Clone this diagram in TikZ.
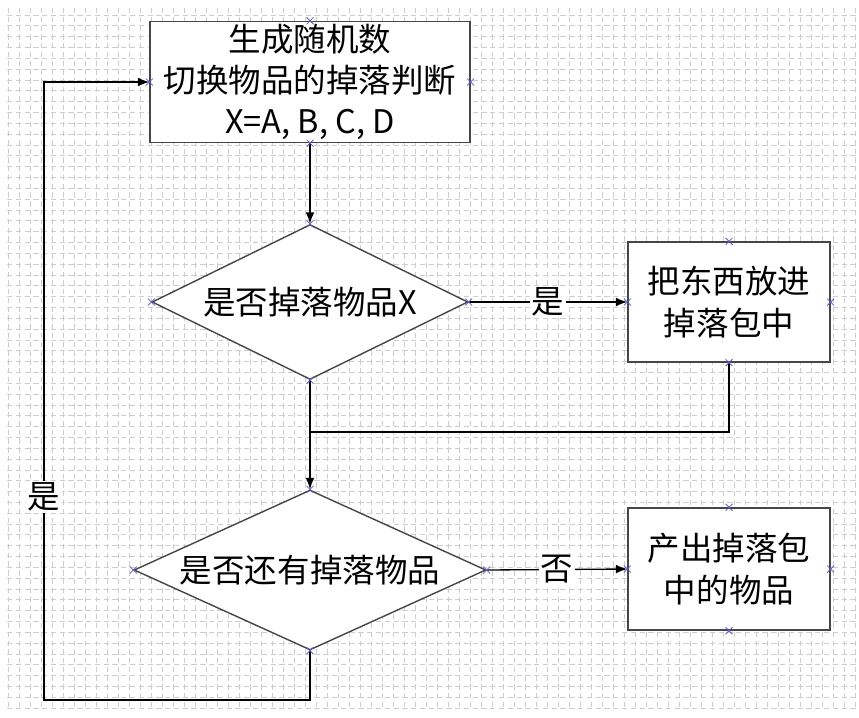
\documentclass[tikz,border=0pt]{standalone}
\usepackage{fontspec}
\usepackage{tikz}
\usetikzlibrary{arrows.meta,calc,positioning,shapes.geometric,shapes.misc}
\newfontfamily\cjk{Noto Sans CJK SC}
\definecolor{gridgray}{RGB}{205,205,205}
\definecolor{cxnblue}{RGB}{90,90,200}
\definecolor{edgegray}{RGB}{70,70,70}

\tikzset{
  box/.style={draw=edgegray, line width=0.8pt, fill=white, align=center, inner sep=0pt},
  decision/.style={diamond, aspect=2, draw=edgegray, line width=0.8pt, fill=white, inner sep=0pt},
  flow/.style={line width=0.75pt, black},
  lbl/.style={fill=white, inner sep=1pt},
  cxn/.style={cross out, draw=cxnblue, minimum size=3.5pt, inner sep=0pt, line width=0.45pt},
}

\begin{document}
\begin{tikzpicture}[x=0.02cm, y=-0.02cm, >={Latex[length=6.5pt,width=5pt]}, every node/.style={font=\cjk\fontsize{18.5}{23.5}\selectfont}]
\useasboundingbox (0,0) rectangle (859,717);
% --- griglia di sfondo ---
\foreach \gx in {0,...,77} \draw[gridgray, densely dashed, line width=0.4pt] (8+11*\gx,8) -- (8+11*\gx,710);
\foreach \gy in {0,...,64} \draw[gridgray, densely dashed, line width=0.4pt] (7,15+10.83*\gy) -- (858,15+10.83*\gy);

% --- blocchi ---
\node[box, minimum width=6.4cm, minimum height=2.42cm] (rand) at (310,82) {生成随机数\\切换物品的掉落判断\\X=A, B, C, D};
\node[decision, minimum width=6.32cm, minimum height=3.1cm] (dropx) at (310,302) {是否掉落物品X};
\node[box, minimum width=4.04cm, minimum height=2.4cm] (putbag) at (729,302) {把东西放进\\掉落包中};
\node[decision, minimum width=7.04cm, minimum height=3.12cm] (more) at (310,570) {是否还有掉落物品};
\node[box, minimum width=4.04cm, minimum height=2.44cm] (output) at (729,569) {产出掉落包\\中的物品};

% --- collegamenti ---
\coordinate (merge) at (310,432);
\coordinate (loop) at (44,700);
\draw[flow, ->] (rand.south) -- (dropx.north);
\draw[flow, ->] (dropx.east) -- (putbag.west) node[lbl, midway] (yes1) {是};
\draw[flow] (putbag.south) |- (merge);
\draw[flow, ->] (dropx.south) -- (more.north);
\draw[flow, ->] (more.east) -- (output.west) node[lbl, midway] (no1) {否};
\draw[flow, ->] (more.south) |- (loop) |- (rand.west);
\node[lbl] (yes2) at (44,497) {是};

% --- punti di connessione ---
\foreach \n in {rand,dropx,putbag,more,output}
  \foreach \a in {north,south,east,west}
    \node[cxn] at (\n.\a) {};
\end{tikzpicture}
\end{document}
